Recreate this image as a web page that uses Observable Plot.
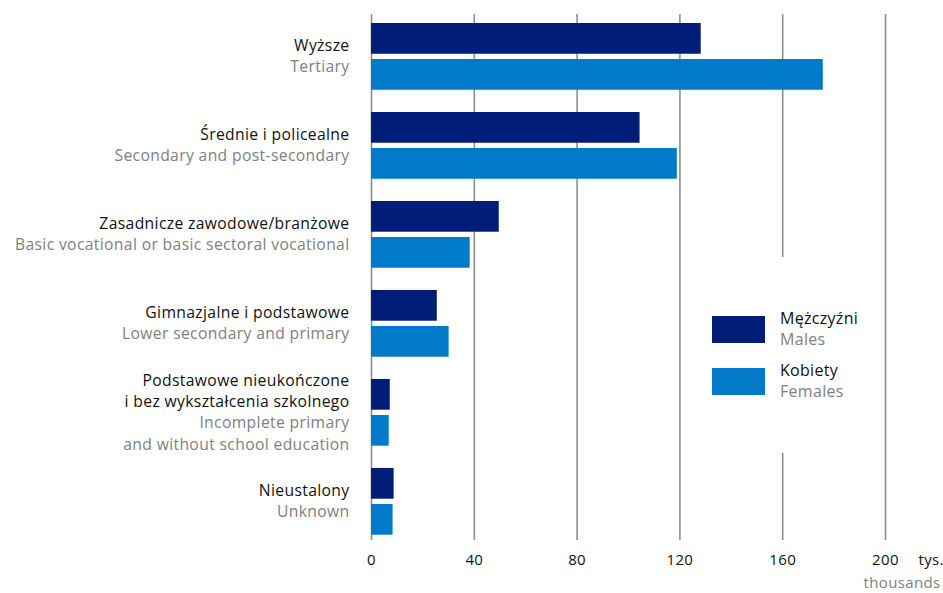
<!DOCTYPE html>
<html>
<head>
<meta charset="utf-8">
<script src="https://cdn.jsdelivr.net/npm/d3@7"></script>
<script src="https://cdn.jsdelivr.net/npm/@observablehq/plot@0.6"></script>
<style>
  html, body { margin: 0; padding: 0; background: #fff; }
  #wrap { position: relative; width: 943px; height: 593px; font-family: "Open Sans", Lato, sans-serif; }
  #wrap svg text { letter-spacing: 0.35px; }
  #legend { position: absolute; left: 700px; top: 257px; width: 172px; height: 196px; background: #fff; }
  .sw { position: absolute; left: 12px; width: 53px; height: 27px; }
  .lt { position: absolute; left: 80px; font-size: 16px; line-height: 21.5px; letter-spacing: 0.3px; white-space: nowrap; }
  .pl { color: #111; }
  .en { color: #808080; }
</style>
</head>
<body>
<div id="wrap"></div>
<script>
const categoriesPl = [
  "Wyższe",
  "Średnie i policealne",
  "Zasadnicze zawodowe/branżowe",
  "Gimnazjalne i podstawowe",
  "Podstawowe nieukończone\ni bez wykształcenia szkolnego",
  "Nieustalony"
];
const categoriesEn = [
  "Tertiary",
  "Secondary and post-secondary",
  "Basic vocational or basic sectoral vocational",
  "Lower secondary and primary",
  "Incomplete primary\nand without school education",
  "Unknown"
];
const males = [128.3, 104.5, 49.7, 25.6, 7.3, 8.8];
const females = [175.8, 119.0, 38.4, 30.2, 6.9, 8.4];
const xTicks = [0, 40, 80, 120, 160, 200];
const seriesPl = ["Mężczyźni", "Kobiety"];
const seriesEn = ["Males", "Females"];
const colors = ["#001e78", "#007ac9"];
const unitPl = "tys.";
const unitEn = "thousands";

const rows = categoriesPl.map((c, i) => ({cat: c, en: categoriesEn[i], m: males[i], f: females[i]}));

const fs = 15.7;
const lh = 21.5 / fs;

const plot = Plot.plot({
  width: 943,
  height: 593,
  marginLeft: 371,
  marginRight: 58,
  marginTop: 23,
  marginBottom: 58.3,
  style: {fontFamily: "'Open Sans', Lato, sans-serif", fontSize: "15px", color: "#111", background: "#fff"},
  x: {domain: [0, 200], ticks: xTicks, tickSize: 0, tickPadding: 19.5, label: null},
  y: {domain: categoriesPl, paddingInner: 0.25, paddingOuter: 0, round: false, axis: null},
  marks: [
    Plot.ruleX(xTicks, {x: d => d, stroke: "#8e8e8e", strokeWidth: 1.6, insetTop: -9, insetBottom: -5.3}),
    Plot.barX(rows, {y: "cat", x: "m", fill: colors[0], insetBottom: 36}),
    Plot.barX(rows, {y: "cat", x: "f", fill: colors[1], insetTop: 36}),
    Plot.text(rows, {y: "cat", text: "cat", frameAnchor: "left", dx: -22, textAnchor: "end",
      lineAnchor: "bottom", lineHeight: lh, dy: -5.5, fill: "#111", fontSize: fs}),
    Plot.text(rows, {y: "cat", text: "en", frameAnchor: "left", dx: -22, textAnchor: "end",
      lineAnchor: "top", lineHeight: lh, dy: 0, fill: "#808080", fontSize: fs}),
    Plot.text([unitPl], {text: d => d, frameAnchor: "bottom-right", dx: 33, dy: 29.5, textAnchor: "start",
      lineAnchor: "bottom", fill: "#111", fontSize: 15}),
    Plot.text([unitEn], {text: d => d, frameAnchor: "bottom-right", dx: 55, dy: 53, textAnchor: "end",
      lineAnchor: "bottom", fill: "#808080", fontSize: 15})
  ]
});

const wrap = document.getElementById("wrap");
wrap.appendChild(plot);

const legend = document.createElement("div");
legend.id = "legend";
const tops = [59, 111];
seriesPl.forEach((s, i) => {
  const sw = document.createElement("div");
  sw.className = "sw";
  sw.style.top = tops[i] + "px";
  sw.style.background = colors[i];
  legend.appendChild(sw);
  const t = document.createElement("div");
  t.className = "lt";
  t.style.top = (tops[i] - 8.5) + "px";
  t.innerHTML = `<div class="pl">${s}</div><div class="en">${seriesEn[i]}</div>`;
  legend.appendChild(t);
});
wrap.appendChild(legend);
</script>
</body>
</html>
